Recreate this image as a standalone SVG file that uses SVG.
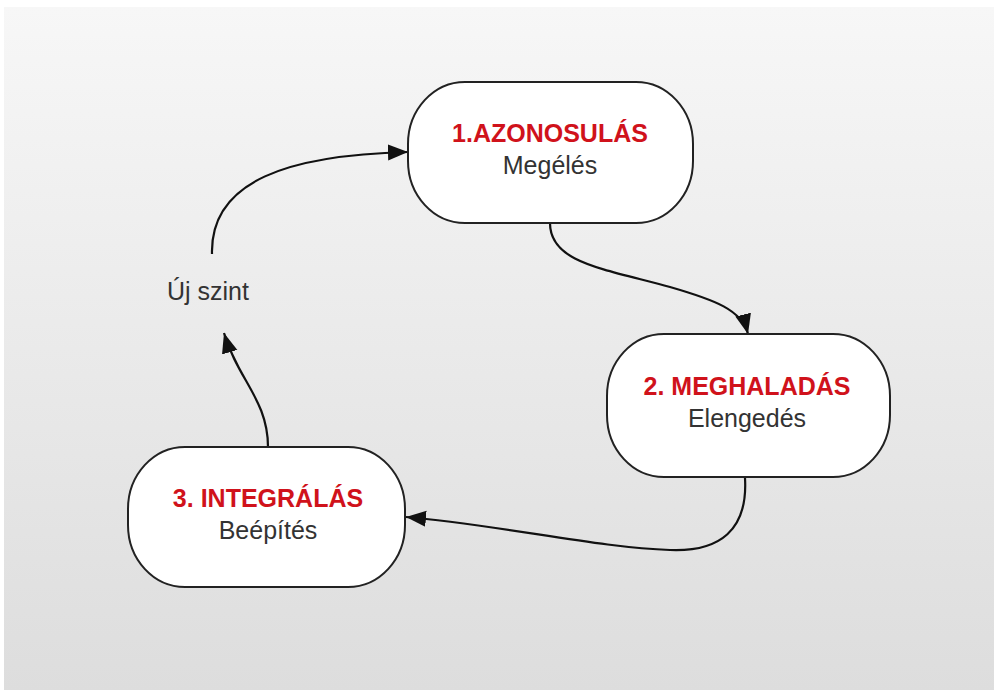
<svg xmlns="http://www.w3.org/2000/svg" width="994" height="690" viewBox="0 0 994 690">
<defs>
<linearGradient id="bg" x1="0" y1="0" x2="0" y2="1">
<stop offset="0" stop-color="#f7f7f7"/>
<stop offset="1" stop-color="#dddddd"/>
</linearGradient>
<marker id="arr" markerUnits="userSpaceOnUse" markerWidth="22" markerHeight="18" refX="20" refY="8" orient="auto">
<path d="M0,0 L20,8 L0,16 z" fill="#111"/>
</marker>
<style>
.node{fill:#fff;stroke:#222;stroke-width:2}
.title{font-family:"Liberation Sans",Arial,sans-serif;font-size:25px;font-weight:bold;fill:#d0121b;text-anchor:middle}
.sub{font-family:"Liberation Sans",Arial,sans-serif;font-size:25px;fill:#333;text-anchor:middle}
.edge{fill:none;stroke:#111;stroke-width:2.2;marker-end:url(#arr)}
</style>
</defs>
<rect x="0" y="0" width="994" height="690" fill="#fff"/>
<rect x="4" y="7" width="990" height="683" fill="url(#bg)"/>
<g id="connectors">
<path class="edge" d="M550,223 C550,262 600,268 670,287 C715,300 742,310 748,334"/>
<path class="edge" d="M745,478 C748,530 720,552 670,550 C600,548 500,525 406,517"/>
<path class="edge" d="M268,447 C268,400 238,380 224,333"/>
<path class="edge" d="M212,254 C210,180 290,155 408,152"/>
</g>
<g id="node1">
<rect class="node" x="408" y="82" width="285" height="141" rx="57" ry="62"/>
<text class="title" x="550" y="142">1.AZONOSULÁS</text>
<text class="sub" x="550" y="174">Megélés</text>
</g>
<g id="node2">
<rect class="node" x="607" y="334" width="283" height="143" rx="57" ry="62"/>
<text class="title" x="747" y="395">2. MEGHALADÁS</text>
<text class="sub" x="747" y="427">Elengedés</text>
</g>
<g id="node3">
<rect class="node" x="128" y="447" width="277" height="140" rx="57" ry="62"/>
<text class="title" x="268" y="507">3. INTEGRÁLÁS</text>
<text class="sub" x="268" y="539">Beépítés</text>
</g>
<g id="label">
<text class="sub" x="208" y="300">Új szint</text>
</g>
</svg>
